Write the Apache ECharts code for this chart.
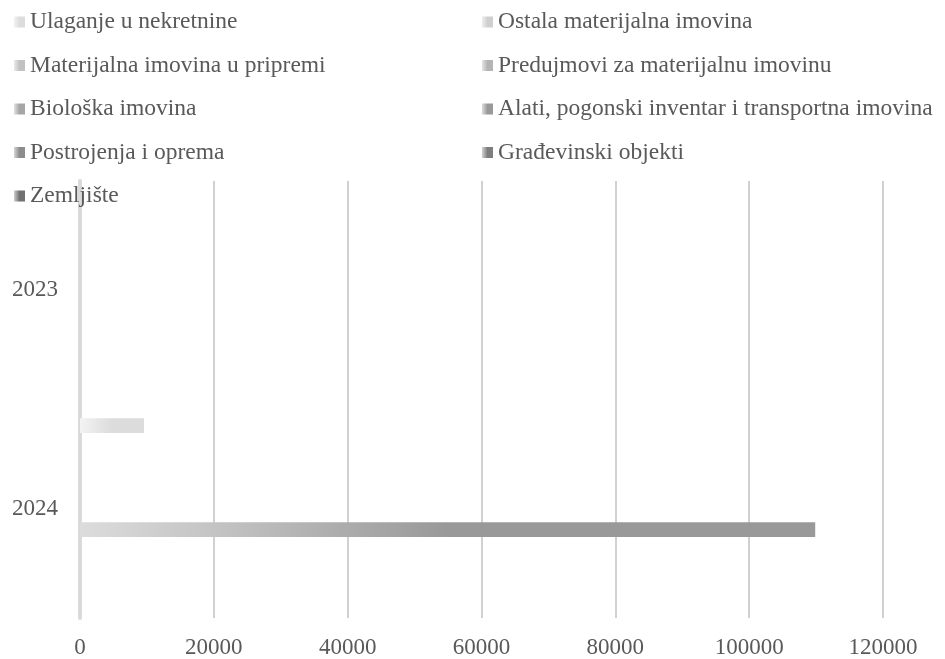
<!DOCTYPE html>
<html>
<head>
<meta charset="utf-8">
<script src="https://cdn.jsdelivr.net/npm/echarts@6/dist/echarts.min.js"></script>
<style>
html,body{margin:0;padding:0;background:#fff;}
#c{width:945px;height:659px;}
</style>
</head>
<body>
<div id="c"></div>
<script>
var categories = ['2023', '2024'];
var seriesNames = [
  'Ulaganje u nekretnine',
  'Ostala materijalna imovina',
  'Materijalna imovina u pripremi',
  'Predujmovi za materijalnu imovinu',
  'Biološka imovina',
  'Alati, pogonski inventar i transportna imovina',
  'Postrojenja i oprema',
  'Građevinski objekti',
  'Zemljište'
];
var ulaganje = [0, 9570];
var ostala = [0, 0];
var uPripremi = [0, 0];
var predujmovi = [0, 0];
var bioloska = [0, 0];
var alati = [0, 109870];
var postrojenja = [0, 0];
var gradjevinski = [0, 0];
var zemljiste = [0, 0];
var seriesValues = [ulaganje, ostala, uPripremi, predujmovi, bioloska, alati, postrojenja, gradjevinski, zemljiste];
var xTicks = { min: 0, max: 120000, interval: 20000 };

// styles (palette)
function gray(v){ v = Math.round(v); return 'rgb(' + v + ',' + v + ',' + v + ')'; }
var baseShades = [220, 207, 193, 180, 166, 153, 140, 126, 113];
var startShades = [243, 238, 234, 229, 225, 220, 215, 211, 206];

var textColor = '#595959';
var font = '"Liberation Serif", "Times New Roman", serif';

var series = seriesNames.map(function(name, i){
  return {
    name: name,
    type: 'bar',
    data: seriesValues[i],
    barWidth: 14.7,
    barGap: '41.5%',
    itemStyle: {
      color: new echarts.graphic.LinearGradient(0, 0, 1, 0, [
        {offset: 0, color: gray(startShades[i])},
        {offset: 0.5, color: gray(baseShades[i])},
        {offset: 1, color: gray(baseShades[i])}
      ])
    }
  };
});

var legendCommon = {
  orient: 'vertical',
  icon: 'rect',
  itemWidth: 11,
  itemHeight: 11,
  itemGap: 19.5,
  selectedMode: false,
  textStyle: { color: textColor, fontFamily: font, fontSize: 23.5, lineHeight: 24 },
  top: 5
};

var chart = echarts.init(document.getElementById('c'));
chart.setOption({
  backgroundColor: '#fff',
  animation: false,
  legend: [
    Object.assign({}, legendCommon, { left: 9, data: [seriesNames[0], seriesNames[2], seriesNames[4], seriesNames[6], seriesNames[8]] }),
    Object.assign({}, legendCommon, { left: 477, data: [seriesNames[1], seriesNames[3], seriesNames[5], seriesNames[7]] })
  ],
  grid: { left: 80, right: 62, top: 181, bottom: 37, containLabel: false },
  xAxis: {
    type: 'value',
    min: xTicks.min, max: xTicks.max, interval: xTicks.interval,
    axisLine: { show: false },
    axisTick: { show: false },
    axisLabel: { color: textColor, fontFamily: font, fontSize: 23, margin: 18, formatter: function(v){ return String(v); } },
    splitLine: { show: true, lineStyle: { color: '#d0d0d0', width: 2 } }
  },
  yAxis: {
    type: 'category',
    inverse: true,
    data: categories,
    axisLine: { show: true, lineStyle: { color: '#dadada', width: 4 } },
    axisTick: { show: false },
    axisLabel: { color: textColor, fontFamily: font, fontSize: 23, margin: 22 },
    splitLine: { show: false }
  },
  series: series
});
</script>
</body>
</html>
